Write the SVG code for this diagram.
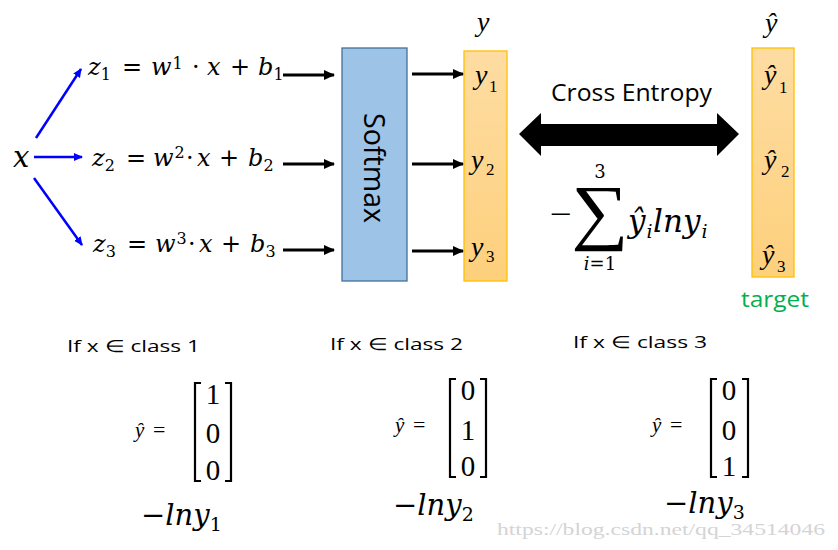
<svg xmlns="http://www.w3.org/2000/svg" width="838" height="550" viewBox="0 0 838 550">
<defs>
<linearGradient id="og" x1="0" y1="0" x2="0" y2="1">
<stop offset="0" stop-color="#fedca2"/>
<stop offset="1" stop-color="#fdd07c"/>
</linearGradient>
<marker id="ab" markerUnits="userSpaceOnUse" markerWidth="12" markerHeight="12" refX="10" refY="5" orient="auto">
<path d="M0,0 L11,5 L0,10 z" fill="#000"/>
</marker>
<marker id="au" markerUnits="userSpaceOnUse" markerWidth="10" markerHeight="10" refX="8" refY="4" orient="auto">
<path d="M0,0 L9,4 L0,8 z" fill="#0000ff"/>
</marker>
</defs>
<style>
.m{font-family:"Liberation Serif",serif;fill:#000}
.c{font-family:"DejaVu Serif","Liberation Serif",serif;fill:#000}
.z{font-size:24px}
.i{font-style:italic}
.s{font-size:16px;font-style:normal}
.t{font-family:"Open Sans","Liberation Sans",sans-serif;fill:#000}
.bk{stroke:#000;stroke-width:3;fill:none;marker-end:url(#ab)}
.bl{stroke:#0000ff;stroke-width:2.5;fill:none;marker-end:url(#au)}
.br{stroke:#000;stroke-width:2.2;fill:none}
.wm{font-family:"Liberation Serif",serif;font-size:17px;fill:#d4d4d4}
.yl{font-size:28px;font-style:italic}
.ys{font-size:17px}
.d{font-size:29px}
.ln{font-size:29px}
.ls{font-size:19px;font-style:normal}
.hy{font-size:21px}
.eq{font-size:22px}
</style>
<rect width="838" height="550" fill="#fff"/>

<g id="x-input">
<text class="c i" x="13" y="167" style="font-size:29px">x</text>
</g>

<g id="z1">
<text class="c z" y="75"><tspan class="i" x="88">z</tspan><tspan class="s" dy="5">1</tspan><tspan x="122" y="75">=</tspan><tspan class="i" x="151">w</tspan><tspan class="s" dx="1" y="69">1</tspan><tspan x="192" y="75">·</tspan><tspan class="i" x="207">x</tspan><tspan x="230">+</tspan><tspan class="i" x="258">b</tspan><tspan class="s" dy="5">1</tspan></text>
</g>
<g id="z2">
<text class="c z" y="166"><tspan class="i" x="92">z</tspan><tspan class="s" dy="5">2</tspan><tspan x="126" y="166">=</tspan><tspan class="i" x="153">w</tspan><tspan class="s" dx="1" y="158">2</tspan><tspan x="186" y="166">·</tspan><tspan class="i" x="197">x</tspan><tspan x="219">+</tspan><tspan class="i" x="248">b</tspan><tspan class="s" dy="5">2</tspan></text>
</g>
<g id="z3">
<text class="c z" y="252"><tspan class="i" x="93">z</tspan><tspan class="s" dy="5">3</tspan><tspan x="127" y="252">=</tspan><tspan class="i" x="155">w</tspan><tspan class="s" dx="1" y="244">3</tspan><tspan x="188" y="252">·</tspan><tspan class="i" x="199">x</tspan><tspan x="221">+</tspan><tspan class="i" x="250">b</tspan><tspan class="s" dy="5">3</tspan></text>
</g>

<g id="softmax">
<rect x="342" y="48" width="65" height="233" fill="#9dc3e6" stroke="#41719c" stroke-width="1.3"/>
<text class="t" style="font-size:29px" text-anchor="middle" transform="translate(364,168) rotate(90)" textLength="110" lengthAdjust="spacingAndGlyphs">Softmax</text>
</g>

<g id="y-vector">
<rect x="464" y="51" width="43" height="230" fill="url(#og)" stroke="#ffc000" stroke-width="1.3"/>
<text class="m yl" x="475" y="84">y</text><text class="m ys" x="489" y="92">1</text>
<text class="m yl" x="471" y="169">y</text><text class="m ys" x="486" y="175">2</text>
<text class="m yl" x="471" y="256">y</text><text class="m ys" x="486" y="262">3</text>
<text class="m yl" x="477" y="31">y</text>
</g>

<g id="target">
<rect x="752" y="48" width="42" height="229" fill="url(#og)" stroke="#ffc000" stroke-width="1.3"/>
<text class="m yl" x="764" y="84">ŷ</text><text class="m ys" x="779" y="93">1</text>
<text class="m yl" x="764" y="169">ŷ</text><text class="m ys" x="781" y="177">2</text>
<text class="m yl" x="762" y="264">ŷ</text><text class="m ys" x="777" y="272">3</text>
<text class="m yl" x="765" y="32">ŷ</text>
<text x="741" y="307" font-family="Open Sans, Liberation Sans, sans-serif" style="font-size:22px" fill="#00b050" textLength="68" lengthAdjust="spacingAndGlyphs">target</text>
</g>

<g id="cross-entropy">
<text class="t" x="551" y="101" style="font-size:23px" textLength="161" lengthAdjust="spacingAndGlyphs">Cross Entropy</text>
<polygon points="519,134 541,113 541,124 717,124 717,113 739,134 717,156 717,146 541,146 541,156" fill="#000"/>
<text class="m" x="550" y="224" style="font-size:30px" textLength="22" lengthAdjust="spacingAndGlyphs">−</text>
<text class="m" style="font-size:73px" text-anchor="middle" transform="translate(600,236) scale(1.1,1)">∑</text>
<text class="c" x="600" y="178" style="font-size:18px" text-anchor="middle">3</text>
<text class="c" x="600" y="270" style="font-size:18px" text-anchor="middle"><tspan class="i">i</tspan>=1</text>
<text class="c i" y="232" style="font-size:31px"><tspan x="628">ŷ</tspan><tspan class="ls" style="font-style:italic" dx="1" dy="6">i</tspan><tspan x="653" y="232">lny</tspan><tspan class="ls" style="font-style:italic" dx="1" dy="6">i</tspan></text>
</g>

<g id="connectors">
<line class="bl" x1="36" y1="138" x2="81" y2="69"/>
<line class="bl" x1="34" y1="157" x2="82" y2="157"/>
<line class="bl" x1="34" y1="178" x2="82" y2="245"/>
<line class="bk" x1="283" y1="75" x2="334" y2="75"/>
<line class="bk" x1="283" y1="164" x2="334" y2="164"/>
<line class="bk" x1="283" y1="250" x2="334" y2="250"/>
<line class="bk" x1="412" y1="74" x2="463" y2="74"/>
<line class="bk" x1="412" y1="164" x2="463" y2="164"/>
<line class="bk" x1="412" y1="251" x2="463" y2="251"/>
</g>

<text class="wm" x="497" y="535" textLength="328" lengthAdjust="spacingAndGlyphs">https://blog.csdn.net/qq_34514046</text>

<g id="class1">
<text class="t" x="67" y="352" style="font-size:17px" textLength="133" lengthAdjust="spacingAndGlyphs">If x ∈ class 1</text>
<text class="m i hy" x="135" y="437">ŷ</text><text class="m eq" x="153" y="437">=</text>
<polyline class="br" points="201,383 195,383 195,481 201,481"/>
<polyline class="br" points="225,383 231,383 231,481 225,481"/>
<text class="m d" x="213" y="404" text-anchor="middle">1</text>
<text class="m d" x="213" y="443" text-anchor="middle">0</text>
<text class="m d" x="213" y="480" text-anchor="middle">0</text>
<text class="c ln" x="141" y="525">−<tspan class="i">lny</tspan><tspan class="ls" dy="6">1</tspan></text>
</g>

<g id="class2">
<text class="t" x="330" y="350" style="font-size:17px" textLength="133" lengthAdjust="spacingAndGlyphs">If x ∈ class 2</text>
<text class="m i hy" x="395" y="432">ŷ</text><text class="m eq" x="413" y="432">=</text>
<polyline class="br" points="456,379 450,379 450,477 456,477"/>
<polyline class="br" points="480,379 486,379 486,477 480,477"/>
<text class="m d" x="468" y="400" text-anchor="middle">0</text>
<text class="m d" x="468" y="440" text-anchor="middle">1</text>
<text class="m d" x="468" y="476" text-anchor="middle">0</text>
<text class="c ln" x="393" y="515">−<tspan class="i">lny</tspan><tspan class="ls" dy="6">2</tspan></text>
</g>

<g id="class3">
<text class="t" x="573" y="348" style="font-size:17px" textLength="134" lengthAdjust="spacingAndGlyphs">If x ∈ class 3</text>
<text class="m i hy" x="652" y="432">ŷ</text><text class="m eq" x="670" y="432">=</text>
<polyline class="br" points="717,379 711,379 711,477 717,477"/>
<polyline class="br" points="742,379 748,379 748,477 742,477"/>
<text class="m d" x="729" y="400" text-anchor="middle">0</text>
<text class="m d" x="729" y="440" text-anchor="middle">0</text>
<text class="m d" x="729" y="476" text-anchor="middle">1</text>
<text class="c ln" x="664" y="513">−<tspan class="i">lny</tspan><tspan class="ls" dy="6">3</tspan></text>
</g>
</svg>
